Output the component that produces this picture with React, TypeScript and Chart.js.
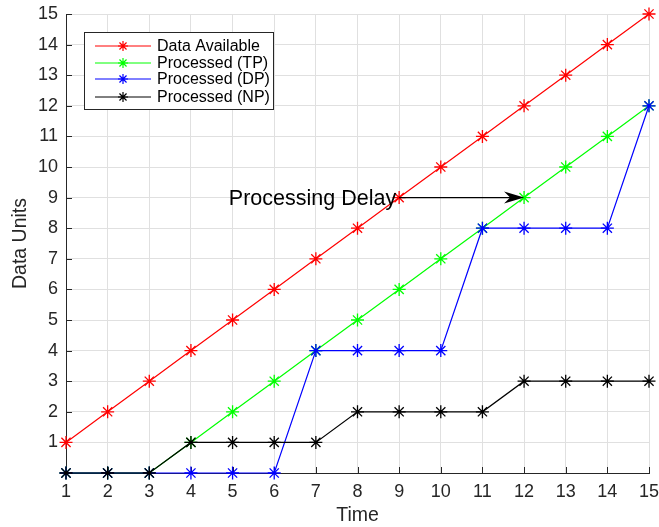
import React, { useEffect, useRef } from "react";
import { Chart, registerables } from "chart.js";

Chart.register(...registerables);

const times = [1, 2, 3, 4, 5, 6, 7, 8, 9, 10, 11, 12, 13, 14, 15];
const dataAvailable = [1, 2, 3, 4, 5, 6, 7, 8, 9, 10, 11, 12, 13, 14, 15];
const processedTP = [0, 0, 0, 1, 2, 3, 4, 5, 6, 7, 8, 9, 10, 11, 12];
const processedDP = [0, 0, 0, 0, 0, 0, 4, 4, 4, 4, 8, 8, 8, 8, 12];
const processedNP = [0, 0, 0, 1, 1, 1, 1, 2, 2, 2, 2, 3, 3, 3, 3];
const seriesNames = ["Data Available", "Processed (TP)", "Processed (DP)", "Processed (NP)"];
const seriesColors = ["#ff0000", "#00ff00", "#0000ff", "#000000"];
const annotationText = "Processing Delay";
const arrowFrom = { x: 9, y: 9 };
const arrowTo = { x: 12, y: 9 };

const FONT = "'Liberation Sans', Arial, Helvetica, sans-serif";

function drawAsterisk(ctx: CanvasRenderingContext2D, x: number, y: number, r: number, color: string) {
  ctx.save();
  ctx.strokeStyle = color;
  ctx.lineWidth = 1.2;
  ctx.beginPath();
  for (let i = 0; i < 4; i++) {
    const a = (i * Math.PI) / 4;
    ctx.moveTo(x - r * Math.cos(a), y - r * Math.sin(a));
    ctx.lineTo(x + r * Math.cos(a), y + r * Math.sin(a));
  }
  ctx.stroke();
  ctx.restore();
}

const tickPlugin = {
  id: "inwardTicks",
  beforeDatasetsDraw(chart: any) {
    const ctx: CanvasRenderingContext2D = chart.ctx;
    const xs = chart.scales.x;
    const ys = chart.scales.y;
    const { left, bottom } = chart.chartArea;
    ctx.save();
    ctx.strokeStyle = "#262626";
    ctx.lineWidth = 1;
    ctx.beginPath();
    xs.ticks.forEach((t: any) => {
      const px = Math.round(xs.getPixelForValue(t.value)) + 0.5;
      ctx.moveTo(px, bottom);
      ctx.lineTo(px, bottom - 6);
    });
    ys.ticks.forEach((t: any) => {
      const py = Math.round(ys.getPixelForValue(t.value)) + 0.5;
      ctx.moveTo(left, py);
      ctx.lineTo(left + 6, py);
    });
    ctx.stroke();
    ctx.restore();
  },
};

const overlayPlugin = {
  id: "overlay",
  afterDatasetsDraw(chart: any) {
    const ctx: CanvasRenderingContext2D = chart.ctx;
    const xs = chart.scales.x;
    const ys = chart.scales.y;
    // annotation arrow
    const x0 = xs.getPixelForValue(arrowFrom.x);
    const x1 = xs.getPixelForValue(arrowTo.x);
    const yy = ys.getPixelForValue(arrowFrom.y);
    ctx.save();
    ctx.strokeStyle = "#000";
    ctx.fillStyle = "#000";
    ctx.lineWidth = 1.2;
    ctx.beginPath();
    ctx.moveTo(x0, yy);
    ctx.lineTo(x1 - 6, yy);
    ctx.stroke();
    ctx.beginPath();
    ctx.moveTo(x1, yy);
    ctx.lineTo(x1 - 20, yy - 6);
    ctx.lineTo(x1 - 14, yy);
    ctx.lineTo(x1 - 20, yy + 6);
    ctx.closePath();
    ctx.fill();
    ctx.font = `21.5px ${FONT}`;
    ctx.textAlign = "right";
    ctx.textBaseline = "middle";
    ctx.fillText(annotationText, x0 - 3, yy + 1);
    ctx.restore();

    // legend
    const lx = chart.chartArea.left + 18;
    const ly = chart.chartArea.top + 18;
    const lw = 189;
    const lh = 77;
    ctx.save();
    ctx.fillStyle = "#fff";
    ctx.fillRect(lx, ly, lw, lh);
    ctx.strokeStyle = "#262626";
    ctx.lineWidth = 1;
    ctx.strokeRect(lx + 0.5, ly + 0.5, lw, lh);
    ctx.font = `16px ${FONT}`;
    ctx.textAlign = "left";
    ctx.textBaseline = "middle";
    const rows = [14, 31, 47, 65];
    seriesNames.forEach((name, i) => {
      const ry = ly + rows[i];
      ctx.strokeStyle = seriesColors[i];
      ctx.lineWidth = 1;
      ctx.beginPath();
      ctx.moveTo(lx + 11, ry);
      ctx.lineTo(lx + 67, ry);
      ctx.stroke();
      drawAsterisk(ctx, lx + 39, ry, 5, seriesColors[i]);
      ctx.fillStyle = "#000";
      ctx.fillText(name, lx + 73, ry + 1);
    });
    ctx.restore();
  },
};

export default function App() {
  const ref = useRef<HTMLCanvasElement>(null);
  useEffect(() => {
    if (!ref.current) return;
    const mk = (label: string, data: number[], color: string) => ({
      label,
      data: data.map((v, i) => ({ x: times[i], y: v })),
      borderColor: color,
      backgroundColor: color,
      borderWidth: 1.2,
      pointStyle: "star",
      pointRadius: 6.5,
      pointBorderWidth: 1.3,
      pointBorderColor: color,
      pointBackgroundColor: color,
      tension: 0,
      clip: false as any,
    });
    const chart = new Chart(ref.current, {
      type: "line",
      data: {
        datasets: [
          mk(seriesNames[3], processedNP, seriesColors[3]),
          mk(seriesNames[2], processedDP, seriesColors[2]),
          mk(seriesNames[1], processedTP, seriesColors[1]),
          mk(seriesNames[0], dataAvailable, seriesColors[0]),
        ] as any,
      },
      options: {
        animation: false,
        responsive: false,
        layout: { padding: { left: 0, right: 10, top: 14, bottom: 0 } },
        plugins: { legend: { display: false }, tooltip: { enabled: false } },
        scales: {
          x: {
            type: "linear",
            min: 1,
            max: 15,
            afterFit: (s: any) => {
              s.height = 54;
              s.paddingLeft = 0;
              s.paddingRight = 0;
            },
            ticks: {
              stepSize: 1,
              color: "#262626",
              font: { family: FONT, size: 18 },
              padding: 8,
            },
            grid: { color: "#e0e0e0", tickLength: 0 },
            border: { color: "#262626", width: 1 },
            title: {
              display: true,
              text: "Time",
              color: "#262626",
              font: { family: FONT, size: 19.5 },
              padding: { top: 0, bottom: 0 },
            },
          },
          y: {
            type: "linear",
            min: 0,
            max: 15,
            afterFit: (s: any) => {
              s.width = 66;
              s.paddingTop = 0;
              s.paddingBottom = 0;
            },
            ticks: {
              stepSize: 1,
              color: "#262626",
              font: { family: FONT, size: 18 },
              padding: 8,
              callback: (v: any) => (v === 0 ? "" : String(v)),
            },
            grid: { color: "#e0e0e0", tickLength: 0 },
            border: { color: "#262626", width: 1 },
            title: {
              display: true,
              text: "Data Units",
              color: "#262626",
              font: { family: FONT, size: 19.5 },
              padding: { top: 9, bottom: 0 },
            },
          },
        },
      },
      plugins: [tickPlugin, overlayPlugin],
    });
    return () => chart.destroy();
  }, []);
  return (
    <div style={{ position: "fixed", left: 0, top: 0, width: 659, height: 527, background: "#fff" }}>
      <canvas ref={ref} width={659} height={527} />
    </div>
  );
}
